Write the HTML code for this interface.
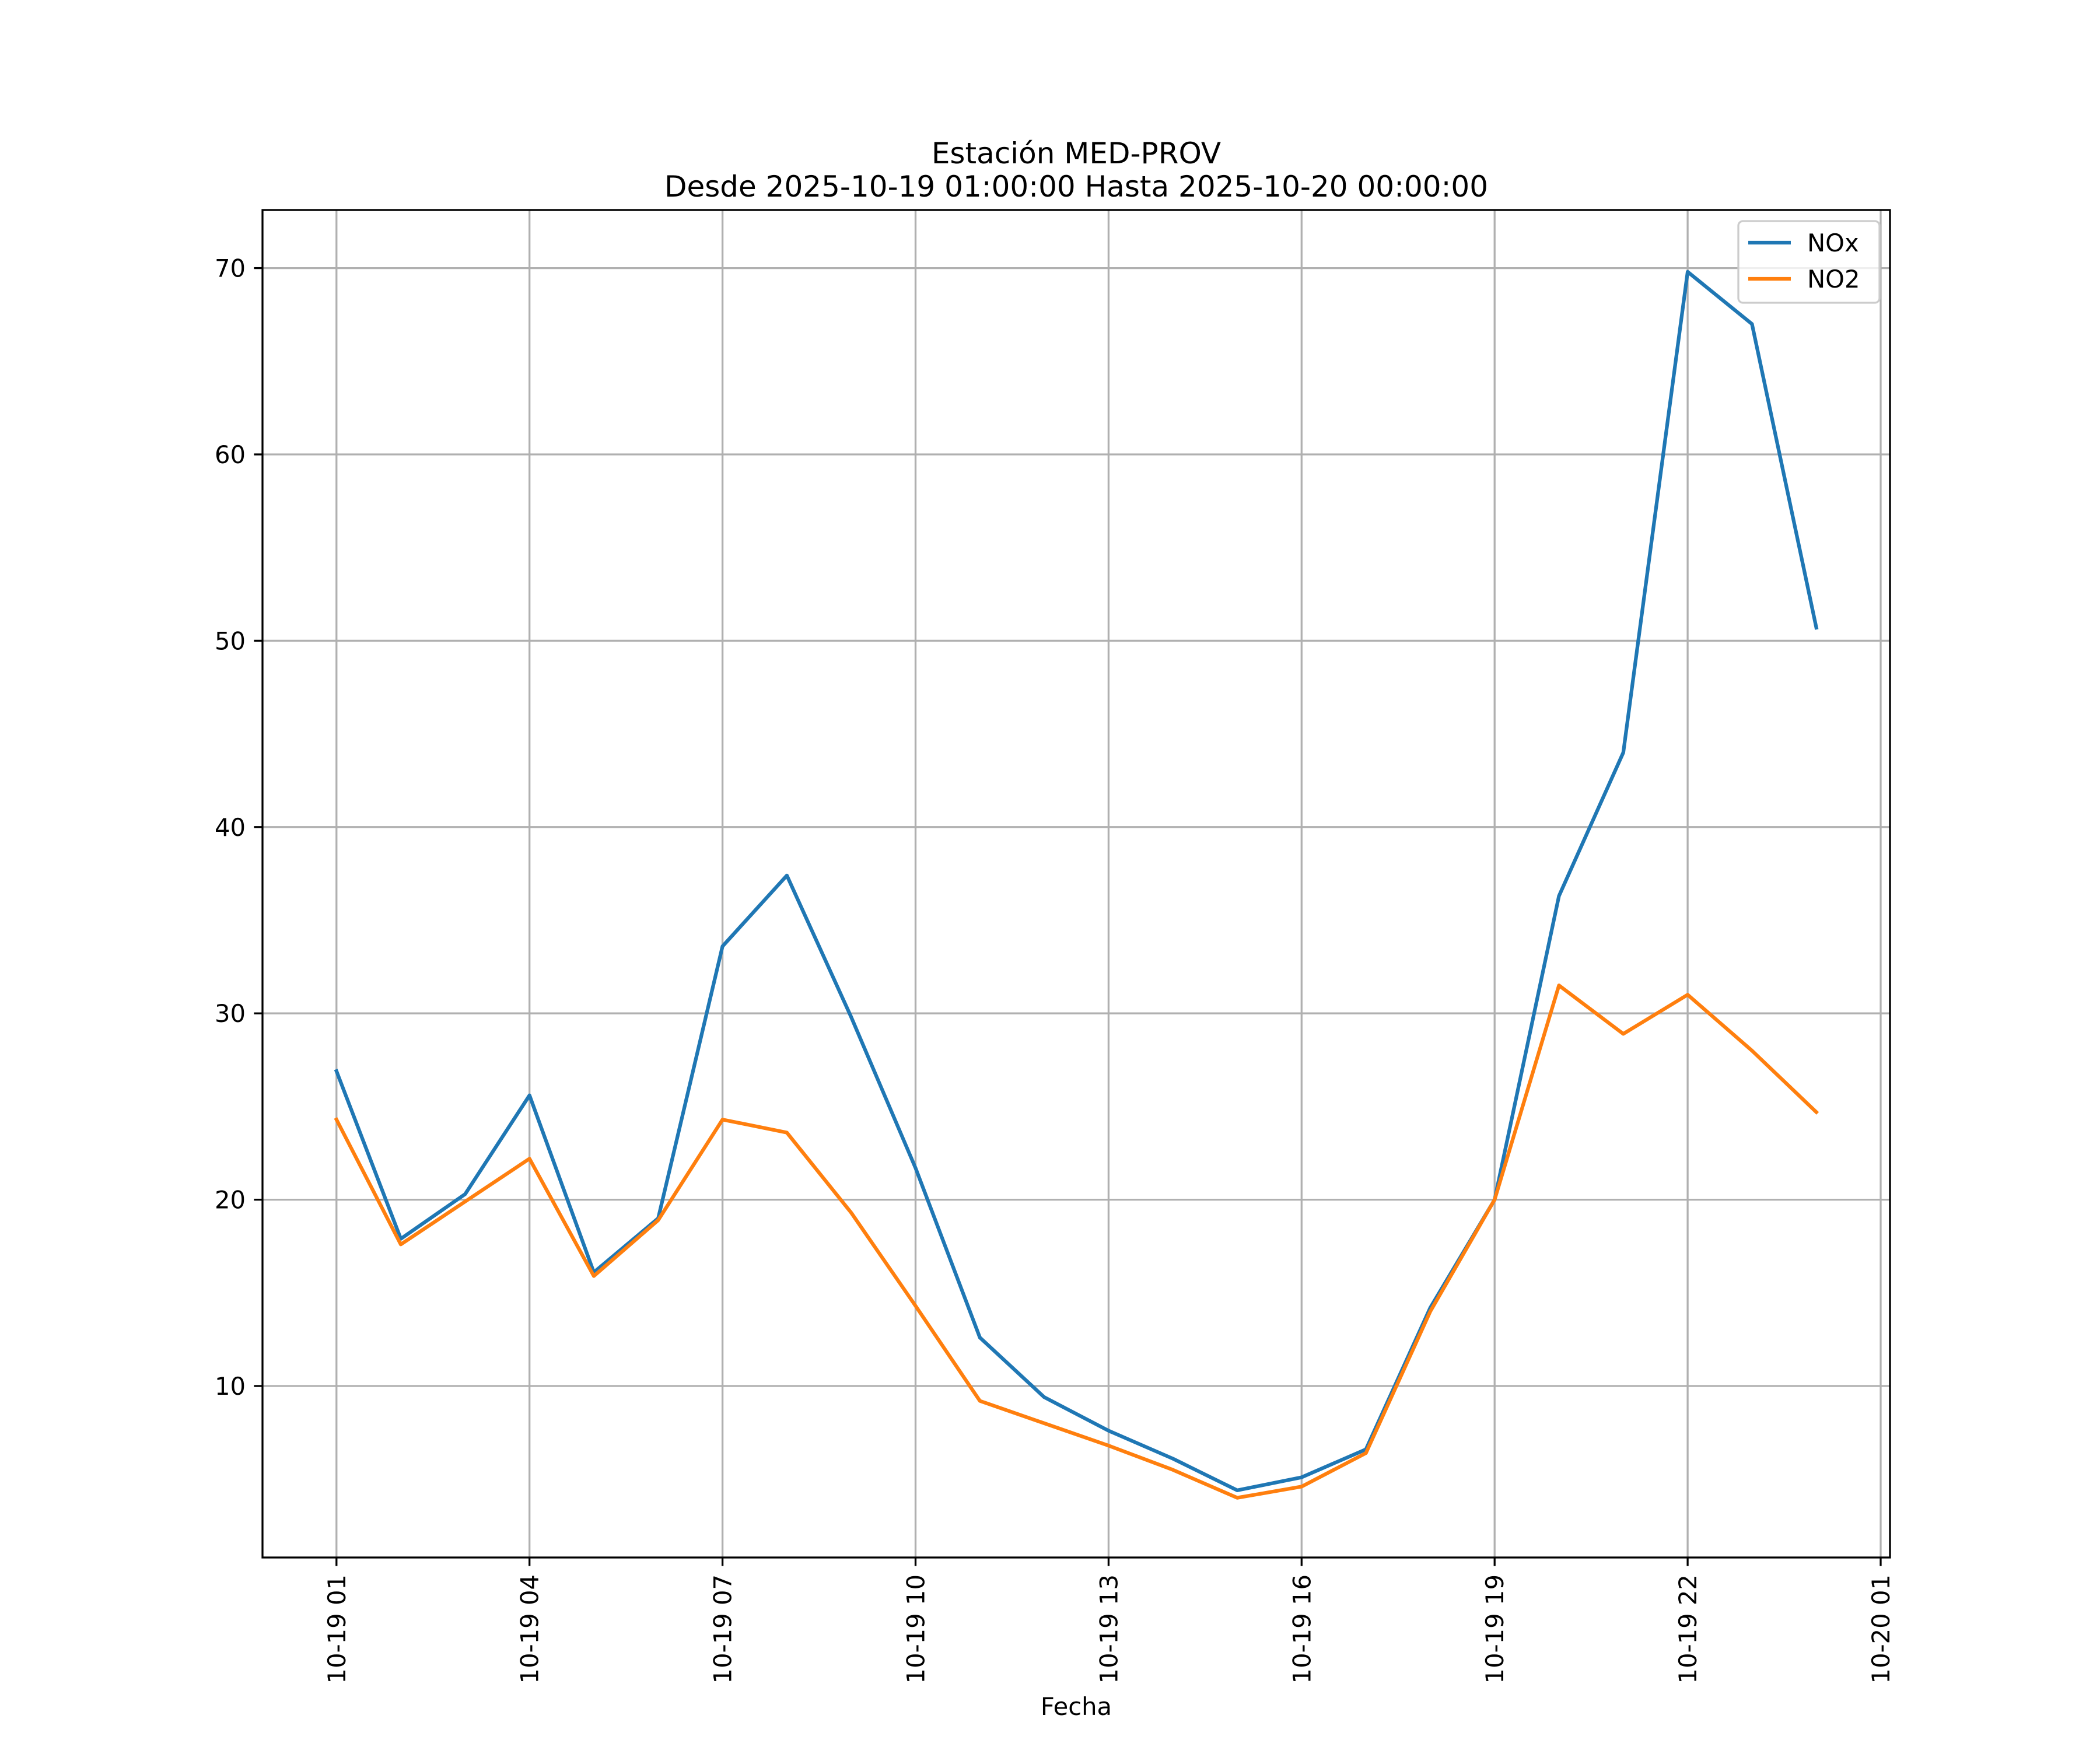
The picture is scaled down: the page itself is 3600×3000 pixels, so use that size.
<!DOCTYPE html>
<html><head><meta charset="utf-8"><style>
html,body{margin:0;padding:0;background:#fff}
svg{display:block;font-family:"DejaVu Sans","Liberation Sans",sans-serif}
</style></head><body>
<svg id="chart" width="3600" height="3000" viewBox="0 0 3600 3000" xmlns="http://www.w3.org/2000/svg">
<rect width="3600" height="3000" fill="#fff"/>
<text x="1845" y="280" font-size="50" text-anchor="middle">Estación MED-PROV</text>
<text x="1845" y="337" font-size="50" text-anchor="middle">Desde 2025-10-19 01:00:00 Hasta 2025-10-20 00:00:00</text>
<g id="grid"></g>
<g id="series"></g>
<rect x="450" y="360" width="2790" height="2310" fill="none" stroke="#000" stroke-width="3.3"/>
<g id="ticks"></g>
<text x="1845" y="2940" font-size="41.7" text-anchor="middle">Fecha</text>
<g>
<rect x="2980" y="379" width="242" height="140" rx="8" fill="#fff" fill-opacity="0.8" stroke="#ccc" stroke-width="3.3"/>
<g><line x1="2997" y1="416" x2="3070" y2="416" stroke="#1f77b4" stroke-width="6.25"/><text x="3098" y="431" font-size="41.7">NOx</text></g>
<g><line x1="2997" y1="478" x2="3070" y2="478" stroke="#ff7f0e" stroke-width="6.25"/><text x="3098" y="493" font-size="41.7">NO2</text></g>
</g>
</svg>
<script>
const hours = [1,2,3,4,5,6,7,8,9,10,11,12,13,14,15,16,17,18,19,20,21,22,23,24];
const noxValues = [26.9,17.9,20.3,25.6,16.1,19.0,33.6,37.4,29.8,21.7,12.6,9.4,7.6,6.1,4.4,5.1,6.6,14.2,20.0,36.3,44.0,69.8,67.0,50.7];
const no2Values = [24.3,17.6,19.9,22.2,15.9,18.9,24.3,23.6,19.3,14.3,9.2,8.0,6.8,5.5,4.0,4.6,6.4,14.0,20.0,31.5,28.9,31.0,28.0,24.7];
const yTicks = [10,20,30,40,50,60,70];
const xTickHours = [1,4,7,10,13,16,19,22,25];
const xTickLabels = ["10-19 01","10-19 04","10-19 07","10-19 10","10-19 13","10-19 16","10-19 19","10-19 22","10-20 01"];

const NS="http://www.w3.org/2000/svg";
const L=450,R=3240,T=360,B=2670;
function xs(h){return 576.8+(h-1)*(3224-576.8)/24;}
function ys(v){return 2376-(v-10)*(2376-459.6)/60;}
function mk(tag,attrs,parent){const e=document.createElementNS(NS,tag);for(const k in attrs)e.setAttribute(k,attrs[k]);parent.appendChild(e);return e;}
const grid=document.getElementById('grid'),ticks=document.getElementById('ticks'),series=document.getElementById('series');
yTicks.forEach(v=>{
  const y=ys(v);
  const g=mk('line',{x1:L,x2:R,y1:y,y2:y,stroke:'#b0b0b0','stroke-width':3.3},grid);
  
  
  mk('line',{x1:L-14.6,x2:L,y1:y,y2:y,stroke:'#000','stroke-width':3.3},ticks);
  const t=mk('text',{x:L-29,y:y+15,'font-size':41.7,'text-anchor':'end'},ticks);
  
  
  t.textContent=v;
});
xTickHours.forEach((h,i)=>{
  const x=xs(h);
  const g=mk('line',{x1:x,x2:x,y1:T,y2:B,stroke:'#b0b0b0','stroke-width':3.3},grid);
  
  
  mk('line',{x1:x,x2:x,y1:B,y2:B+14.6,stroke:'#000','stroke-width':3.3},ticks);
  const t=mk('text',{x:0,y:0,'font-size':41.7,'text-anchor':'end',transform:`translate(${x+15},2699) rotate(-90)`},ticks);
  
  
  t.textContent=xTickLabels[i];
});
function line(vals,color,name){
  const p=mk('polyline',{points:vals.map((v,i)=>xs(hours[i])+','+ys(v)).join(' '),fill:'none',stroke:color,'stroke-width':6.25,'stroke-linejoin':'round','stroke-linecap':'square'},series);
  
  
}
line(noxValues,'#1f77b4','nox-line');
line(no2Values,'#ff7f0e','no2-line');
</script>
</body></html>
